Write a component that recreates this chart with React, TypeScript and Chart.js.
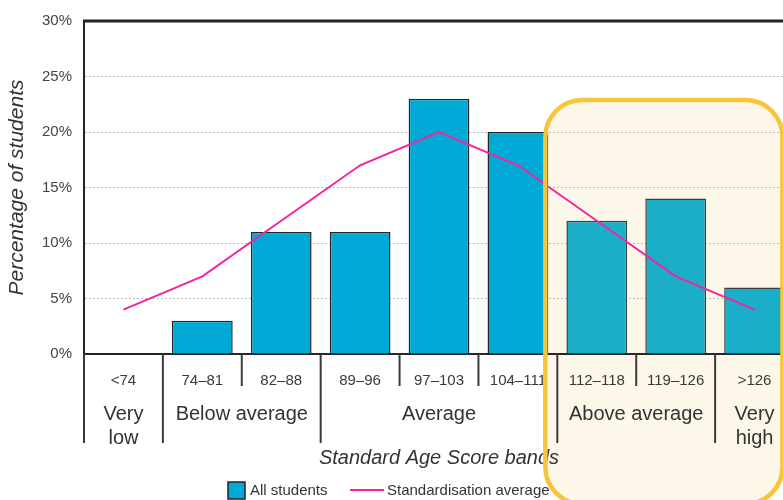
import React, { useEffect, useRef } from "react";
import { Chart, registerables } from "chart.js";

Chart.register(...registerables);

const categories = ["<74", "74–81", "82–88", "89–96", "97–103", "104–111", "112–118", "119–126", ">126"];
const allStudents = [0, 3, 11, 11, 23, 20, 12, 14, 6];
const standardisationAverage = [4, 7, 12, 17, 20, 17, 12, 7, 4];
const groupLabels = [["Very", "low"], ["Below average"], ["Average"], ["Above average"], ["Very", "high"]];
const groupFrom = [0, 1, 3, 6, 8];
const groupTo = [0, 2, 5, 7, 8];
const highlightFrom = 6;

const FONT = "'Liberation Sans', Arial, sans-serif";
const BLUE = "#00a9d6";
const BLUE_HL = "#1aaec8";
const PINK = "#f5249e";

function roundRect(ctx: CanvasRenderingContext2D, x: number, y: number, w: number, h: number, r: number) {
  ctx.beginPath();
  ctx.moveTo(x + r, y);
  ctx.lineTo(x + w - r, y);
  ctx.arcTo(x + w, y, x + w, y + r, r);
  ctx.lineTo(x + w, y + h - r);
  ctx.arcTo(x + w, y + h, x + w - r, y + h, r);
  ctx.lineTo(x + r, y + h);
  ctx.arcTo(x, y + h, x, y + h - r, r);
  ctx.lineTo(x, y + r);
  ctx.arcTo(x, y, x + r, y, r);
  ctx.closePath();
}

function highlightPath(ctx: CanvasRenderingContext2D, chart: any) {
  const xs = chart.scales.x;
  const w = xs.getPixelForValue(1) - xs.getPixelForValue(0);
  const left = xs.getPixelForValue(highlightFrom) - w / 2 - 12;
  roundRect(ctx, left, 100, 782.5 - left, 404, 37);
}

const decorPlugin = {
  id: "decor",
  beforeDraw(chart: any) {
    const ctx = chart.ctx as CanvasRenderingContext2D;
    ctx.save();
    ctx.fillStyle = "#ffffff";
    ctx.fillRect(0, 0, chart.width, chart.height);
    highlightPath(ctx, chart);
    ctx.fillStyle = "#fdf7ea";
    ctx.fill();
    ctx.restore();
  },
  afterDraw(chart: any) {
    const ctx = chart.ctx as CanvasRenderingContext2D;
    const xs = chart.scales.x;
    const area = chart.chartArea;
    const w = xs.getPixelForValue(1) - xs.getPixelForValue(0);
    ctx.save();
    // top border
    ctx.strokeStyle = "#222";
    ctx.lineWidth = 3;
    ctx.beginPath();
    ctx.moveTo(area.left - 1, area.top);
    ctx.lineTo(chart.width, area.top);
    ctx.stroke();
    // separators
    ctx.strokeStyle = "#3a3a3a";
    ctx.lineWidth = 2;
    for (let b = 0; b <= categories.length; b++) {
      const x = xs.getPixelForValue(b) - w / 2;
      const long = groupFrom.includes(b);
      ctx.beginPath();
      ctx.moveTo(x, area.bottom);
      ctx.lineTo(x, area.bottom + (long ? 89 : 32));
      ctx.stroke();
    }
    // group labels
    ctx.fillStyle = "#333";
    ctx.font = `20px ${FONT}`;
    ctx.textAlign = "center";
    ctx.textBaseline = "middle";
    groupLabels.forEach((lines, i) => {
      const cx = (xs.getPixelForValue(groupFrom[i]) + xs.getPixelForValue(groupTo[i])) / 2;
      lines.forEach((t, j) => ctx.fillText(t, cx, area.bottom + 60 + j * 24));
    });
    // legend
    const ds = chart.data.datasets;
    const ly = 490;
    ctx.font = `15px ${FONT}`;
    ctx.textAlign = "left";
    ctx.fillStyle = BLUE;
    ctx.fillRect(228, ly - 8, 17, 17);
    ctx.strokeStyle = "#222";
    ctx.lineWidth = 1.5;
    ctx.strokeRect(228, ly - 8, 17, 17);
    ctx.fillStyle = "#333";
    ctx.fillText(ds[1].label, 250, ly + 1);
    ctx.strokeStyle = PINK;
    ctx.lineWidth = 2;
    ctx.beginPath();
    ctx.moveTo(350, ly);
    ctx.lineTo(384, ly);
    ctx.stroke();
    ctx.fillStyle = "#333";
    ctx.fillText(ds[0].label, 387, ly + 1);
    // highlight border
    highlightPath(ctx, chart);
    ctx.strokeStyle = "#f8c43a";
    ctx.lineWidth = 4.5;
    ctx.stroke();
    ctx.restore();
  },
};

export default function App() {
  const ref = useRef<HTMLCanvasElement | null>(null);
  useEffect(() => {
    if (!ref.current) return;
    const chart = new Chart(ref.current, {
      type: "bar",
      data: {
        labels: categories,
        datasets: [
          {
            type: "line",
            label: "Standardisation average",
            data: standardisationAverage,
            borderColor: PINK,
            borderWidth: 2,
            pointRadius: 0,
            tension: 0,
            fill: false,
            order: 0,
          } as any,
          {
            type: "bar",
            label: "All students",
            data: allStudents,
            backgroundColor: categories.map((_, i) => (i >= highlightFrom ? BLUE_HL : BLUE)),
            borderColor: categories.map((_, i) => (i >= highlightFrom ? "#3a3f3c" : "#262626")),
            borderWidth: 1.5,
            borderSkipped: "bottom",
            barPercentage: 0.77,
            categoryPercentage: 1,
            order: 1,
          },
        ],
      },
      options: {
        responsive: false,
        animation: false,
        layout: { padding: { top: 16, left: 0, right: 6, bottom: 0 } },
        plugins: { legend: { display: false }, tooltip: { enabled: false } },
        scales: {
          x: {
            grid: { display: false },
            border: { display: true, color: "#262626", width: 2 },
            ticks: { color: "#3a3a3a", font: { family: FONT, size: 15 }, padding: 10, maxRotation: 0, autoSkip: false },
            title: {
              display: true,
              text: "Standard Age Score bands",
              color: "#333",
              font: { family: FONT, size: 20, style: "italic" },
              padding: { top: 0, bottom: 30 },
            },
            afterFit: (s: any) => {
              s.height = 146;
            },
          },
          y: {
            min: 0,
            max: 30,
            grid: {
              drawTicks: false,
              color: (c: any) => (c.tick && (c.tick.value === 0 || c.tick.value === 30) ? "rgba(0,0,0,0)" : "#bdbdbd"),
              lineWidth: 1,
            },
            border: { display: true, color: "#262626", width: 2, dash: [2, 2] },
            ticks: {
              stepSize: 5,
              padding: 12,
              color: "#444",
              font: { family: FONT, size: 15 },
              callback: (v: any) => `${v}%`,
            },
            title: {
              display: true,
              text: "Percentage of students",
              color: "#333",
              font: { family: FONT, size: 21, style: "italic" },
              padding: { top: 5, bottom: 0 },
            },
            afterFit: (s: any) => {
              s.width = 84;
            },
          },
        },
      },
      plugins: [decorPlugin],
    });
    return () => chart.destroy();
  }, []);
  return (
    <div style={{ position: "fixed", left: 0, top: 0, width: 783, height: 500, overflow: "hidden", background: "#fff" }}>
      <canvas ref={ref} width={800} height={500} style={{ display: "block" }} />
    </div>
  );
}
